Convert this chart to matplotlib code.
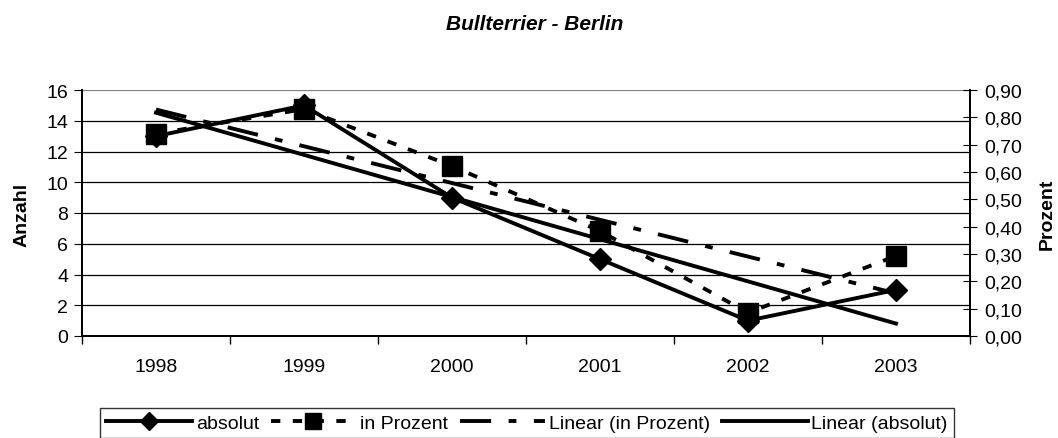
import numpy as np
import matplotlib.pyplot as plt
from matplotlib.ticker import FuncFormatter

plt.rcParams['font.family'] = ['Liberation Sans', 'DejaVu Sans']

years = ['1998', '1999', '2000', '2001', '2002', '2003']
absolut = [13, 15, 9, 5, 1, 3]
prozent = [0.74, 0.83, 0.622, 0.384, 0.085, 0.293]

x = np.arange(len(years))
fit_abs = np.polyval(np.polyfit(x, absolut, 1), x)
fit_pct = np.polyval(np.polyfit(x, prozent, 1), x)

W, H = 1058, 439
fig = plt.figure(figsize=(W / 100, H / 100), dpi=100)
ax = fig.add_axes([82 / W, 1 - 337 / H, (970 - 82) / W, (337 - 91) / H])
ax2 = ax.twinx()

ax.set_xlim(-0.5, 5.5)
ax.set_ylim(0, 16)
ax2.set_ylim(0, 0.9)

for y in range(2, 17, 2):
    ax.axhline(y, color='black' if y < 16 else '#808080', lw=0.9, zorder=0)

lw = 2.8
l1, = ax.plot(x, absolut, color='black', lw=lw, marker='D', ms=11, zorder=3)
l4, = ax.plot(x, fit_abs, color='black', lw=lw, zorder=3)
l2, = ax2.plot(x, prozent, color='black', lw=lw, ls=(0, (2.4, 3.2)), marker='s', ms=14, zorder=3)
l3, = ax2.plot(x, fit_pct, color='black', lw=lw, ls=(0, (8, 4.5, 2, 4.5)), zorder=3)

ax.set_xticks(x)
ax.set_xticklabels(years)
ax.set_xticks(np.arange(-0.5, 6, 1), minor=True)
ax.tick_params(axis='x', which='major', length=0, pad=16, labelsize=14)
ax.tick_params(axis='x', which='minor', length=6, direction='out', width=1)
ax.set_yticks(range(0, 17, 2))
ax.tick_params(axis='y', length=6, direction='out', labelsize=14, pad=4)
ax2.set_yticks(np.arange(0, 0.91, 0.1))
ax2.yaxis.set_major_formatter(FuncFormatter(lambda v, p: f'{v:.2f}'.replace('.', ',')))
ax2.tick_params(axis='y', length=10, direction='inout', labelsize=14, pad=5)

for a in (ax, ax2):
    a.spines['top'].set_visible(False)
    for s in ('left', 'right', 'bottom'):
        a.spines[s].set_linewidth(1.3)

fig.text(22 / W, 1 - 215 / H, 'Anzahl', rotation=90, ha='center', va='center',
         fontsize=14, fontweight='bold')
fig.text(1047 / W, 1 - 214 / H, 'Prozent', rotation=90, ha='center', va='center',
         fontsize=14, fontweight='bold')

fig.text(535 / W, 1 - 25 / H, 'Bullterrier - Berlin', ha='center', va='center',
         fontsize=15, fontweight='bold', fontstyle='italic')

leg = fig.legend([l1, l2, l3, l4], ['absolut', 'in Prozent', 'Linear (in Prozent)', 'Linear (absolut)'],
                 loc='center', bbox_to_anchor=(527 / W, 1 - 424 / H), ncol=4, frameon=True,
                 fancybox=False, edgecolor='black', fontsize=14, handlelength=4.4,
                 handletextpad=0.2, columnspacing=0.6, borderpad=0.3, borderaxespad=0,
                 markerscale=0.8)
leg.get_frame().set_linewidth(1.0)

fig.savefig('out.png', dpi=100)
